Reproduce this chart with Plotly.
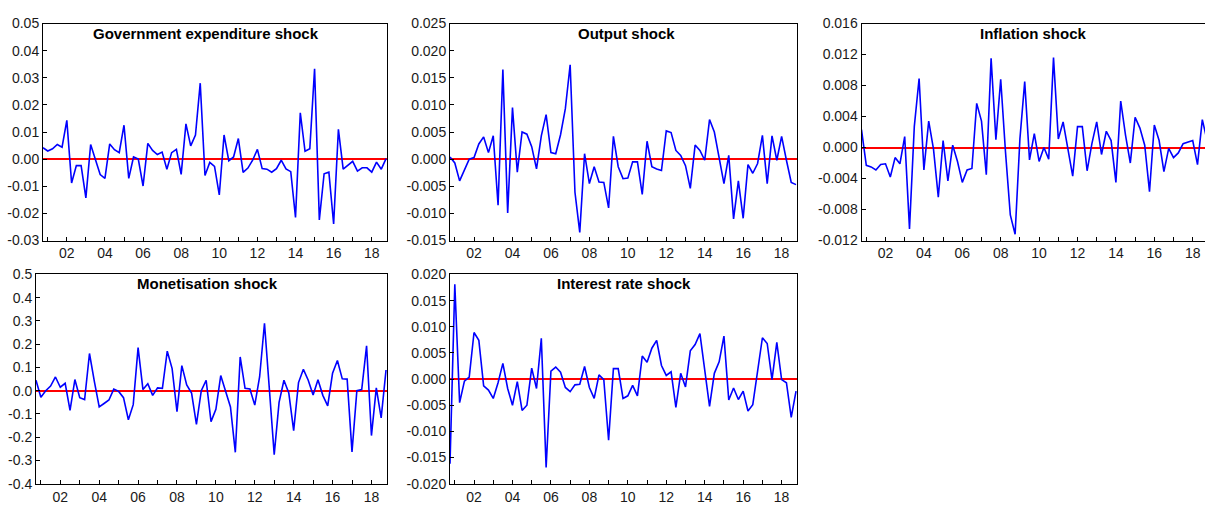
import plotly.graph_objects as go
import pandas as pd

# ---------------- data (quarterly, 2000Q4 - 2018Q4) ----------------
quarters = pd.period_range("2000Q4", "2018Q4", freq="Q")

gov_shock = [0.0042, 0.0030, 0.0038, 0.0054, 0.0044, 0.0143, -0.0088, -0.0024, -0.0024, -0.0143,
             0.0054, 0.0000, -0.0057, -0.0071, 0.0056, 0.0035, 0.0024, 0.0125, -0.0071, 0.0008,
             0.0000, -0.0099, 0.0058, 0.0032, 0.0017, 0.0026, -0.0037, 0.0024, 0.0036, -0.0056,
             0.0130, 0.0049, 0.0089, 0.0280, -0.0060, -0.0012, -0.0027, -0.0132, 0.0089, -0.0006,
             0.0008, 0.0076, -0.0049, -0.0033, -0.0004, 0.0036, -0.0035, -0.0037, -0.0048, -0.0035,
             -0.0004, -0.0036, -0.0046, -0.0215, 0.0171, 0.0029, 0.0038, 0.0333, -0.0224, -0.0054,
             -0.0048, -0.0239, 0.0110, -0.0037, -0.0023, -0.0008, -0.0044, -0.0032, -0.0032, -0.0048,
             -0.0011, -0.0037, 0.0002]

output_shock = [0.0004, -0.0007, -0.0040, -0.0020, 0.0000, 0.0003, 0.0028, 0.0041, 0.0012, 0.0043,
                -0.0085, 0.0165, -0.0099, 0.0095, -0.0024, 0.0050, 0.0046, 0.0023, -0.0018, 0.0043,
                0.0082, 0.0012, 0.0010, 0.0045, 0.0093, 0.0174, -0.0061, -0.0135, 0.0010, -0.0045,
                -0.0014, -0.0042, -0.0043, -0.0090, 0.0042, -0.0014, -0.0036, -0.0035, -0.0005, -0.0005,
                -0.0065, 0.0033, -0.0014, -0.0018, -0.0021, 0.0052, 0.0049, 0.0016, 0.0007, -0.0012,
                -0.0054, 0.0026, 0.0016, -0.0002, 0.0073, 0.0050, 0.0005, -0.0045, 0.0007, -0.0110,
                -0.0040, -0.0109, -0.0010, -0.0026, -0.0008, 0.0044, -0.0045, 0.0043, -0.0002, 0.0042,
                -0.0002, -0.0043, -0.0047]

inflation_shock = [0.0023, -0.0023, -0.0025, -0.0029, -0.0022, -0.0021, -0.0038, -0.0013, -0.0021, 0.0014,
                   -0.0105, 0.0027, 0.0089, -0.0029, 0.0034, -0.0002, -0.0064, 0.0009, -0.0043, 0.0003,
                   -0.0018, -0.0045, -0.0029, -0.0027, 0.0057, 0.0034, -0.0035, 0.0115, 0.0010, 0.0088,
                   -0.0006, -0.0087, -0.0112, 0.0011, 0.0085, -0.0016, 0.0018, -0.0018, 0.0000, -0.0015,
                   0.0116, 0.0011, 0.0033, 0.0000, -0.0037, 0.0027, 0.0027, -0.0030, 0.0005, 0.0033,
                   -0.0009, 0.0021, 0.0009, -0.0045, 0.0060, 0.0016, -0.0020, 0.0039, 0.0025, 0.0003,
                   -0.0057, 0.0029, 0.0009, -0.0031, -0.0001, -0.0013, -0.0007, 0.0005, 0.0007, 0.0009,
                   -0.0022, 0.0036, 0.0009]

monetisation_shock = [0.045, -0.028, 0.000, 0.020, 0.059, 0.015, 0.032, -0.085, 0.048, -0.030,
                      -0.038, 0.160, 0.040, -0.070, -0.055, -0.040, 0.007, -0.003, -0.030, -0.125,
                      -0.060, 0.185, 0.005, 0.030, -0.020, 0.012, 0.010, 0.170, 0.095, -0.090,
                      0.108, 0.025, -0.010, -0.145, 0.000, 0.045, -0.133, -0.080, 0.065, 0.000,
                      -0.070, -0.265, 0.145, 0.010, 0.007, -0.062, 0.060, 0.290, 0.020, -0.275,
                      -0.050, 0.045, -0.010, -0.172, 0.035, 0.092, 0.045, -0.018, 0.047, -0.020,
                      -0.065, 0.075, 0.130, 0.051, 0.050, -0.263, 0.000, 0.005, 0.193, -0.193,
                      0.012, -0.117, 0.089]

interest_shock = [-0.0162, 0.0181, -0.0045, -0.0004, 0.0004, 0.0089, 0.0074, -0.0013, -0.0021, -0.0037,
                  -0.0007, 0.0030, -0.0018, -0.0050, -0.0005, -0.0060, -0.0050, 0.0021, -0.0018, 0.0078,
                  -0.0169, 0.0015, 0.0023, 0.0013, -0.0016, -0.0024, -0.0011, -0.0010, 0.0024, -0.0016,
                  -0.0037, 0.0008, -0.0001, -0.0117, 0.0020, 0.0020, -0.0037, -0.0032, -0.0012, -0.0032,
                  0.0044, 0.0032, 0.0059, 0.0074, 0.0026, 0.0007, 0.0014, -0.0054, 0.0011, -0.0015,
                  0.0054, 0.0066, 0.0087, 0.0018, -0.0052, 0.0011, 0.0033, 0.0082, -0.0040, -0.0017,
                  -0.0039, -0.0023, -0.0061, -0.0049, 0.0015, 0.0079, 0.0068, -0.0001, 0.0070, -0.0001,
                  -0.0007, -0.0073, -0.0023]

titles = ["Government expenditure shock", "Output shock", "Inflation shock",
          "Monetisation shock", "Interest rate shock"]

year_ticks = list(range(2001, 2019))
year_labels = ["", "02", "", "04", "", "06", "", "08", "", "10", "", "12", "", "14", "", "16", "", "18"]

gov_yticks = ["-0.03", "-0.02", "-0.01", "0.00", "0.01", "0.02", "0.03", "0.04", "0.05"]
output_yticks = ["-0.015", "-0.010", "-0.005", "0.000", "0.005", "0.010", "0.015", "0.020", "0.025"]
inflation_yticks = ["-0.012", "-0.008", "-0.004", "0.000", "0.004", "0.008", "0.012", "0.016"]
monetisation_yticks = ["-0.4", "-0.3", "-0.2", "-0.1", "0.0", "0.1", "0.2", "0.3", "0.4", "0.5"]
interest_yticks = ["-0.020", "-0.015", "-0.010", "-0.005", "0.000", "0.005", "0.010", "0.015", "0.020"]

# ---------------- layout helpers ----------------
W, H = 1205, 514
x_vals = [p.year + (p.quarter - 1) / 4 for p in quarters]

def px_dom(a, b, total):
    return [a / total, b / total]

def py_dom(top, bottom):
    return [1 - bottom / H, 1 - top / H]

panels = [
    dict(vals=gov_shock, yt=gov_yticks, xd=px_dom(43, 387, W), yd=py_dom(16, 240),
         xr=[2000.75, 2018.8], mirror_y=True, tx=0.475),
    dict(vals=output_shock, yt=output_yticks, xd=px_dom(450, 797, W), yd=py_dom(16, 240),
         xr=[2000.75, 2018.8], mirror_y=True, tx=0.51),
    dict(vals=inflation_shock, yt=inflation_yticks, xd=px_dom(861.5, 1205, W), yd=py_dom(16, 240),
         xr=[2000.75, 2018.64], mirror_y=False, tx=0.5),
    dict(vals=monetisation_shock, yt=monetisation_yticks, xd=px_dom(36, 387, W), yd=py_dom(275, 491),
         xr=[2000.75, 2018.8], mirror_y=True, tx=0.49),
    dict(vals=interest_shock, yt=interest_yticks, xd=px_dom(450, 797, W), yd=py_dom(275, 491),
         xr=[2000.75, 2018.8], mirror_y=True, tx=0.5),
]

FONT = "Liberation Sans, Arial, sans-serif"
fig = go.Figure()
annotations = []
for i, (p, title) in enumerate(zip(panels, titles)):
    suf = "" if i == 0 else str(i + 1)
    fig.add_trace(go.Scatter(x=x_vals, y=p["vals"], mode="lines",
                             line=dict(color="#0000ff", width=1.6),
                             xaxis="x" + suf, yaxis="y" + suf, showlegend=False,
                             hoverinfo="skip"))
    ytv = [float(t) for t in p["yt"]]
    fig.layout["xaxis" + suf] = dict(
        domain=p["xd"], range=p["xr"], anchor="y" + suf,
        tickmode="array", tickvals=year_ticks, ticktext=year_labels,
        ticks="inside", ticklen=4, tickcolor="black", tickwidth=1,
        showline=True, linecolor="black", linewidth=1, mirror=True,
        showgrid=False, zeroline=False, fixedrange=True,
        tickfont=dict(family=FONT, size=14, color="#1a1a1a"))
    fig.layout["yaxis" + suf] = dict(
        domain=p["yd"], range=[ytv[0], ytv[-1]], anchor="x" + suf,
        tickmode="array", tickvals=ytv, ticktext=p["yt"],
        ticks="inside", ticklen=4, tickcolor="black", tickwidth=1,
        showline=True, linecolor="black", linewidth=1, mirror=p["mirror_y"],
        showgrid=False, zeroline=True, zerolinecolor="#ff0000", zerolinewidth=2,
        fixedrange=True,
        tickfont=dict(family=FONT, size=14, color="#1a1a1a"))
    annotations.append(dict(
        text="<b>" + title + "</b>", xref="x" + suf + " domain", yref="y" + suf + " domain",
        x=p["tx"], y=1, xanchor="center", yanchor="top", yshift=1, showarrow=False,
        font=dict(family=FONT, size=15, color="black")))

fig.update_layout(width=W, height=H, margin=dict(l=0, r=0, t=0, b=0, pad=0),
                  paper_bgcolor="white", plot_bgcolor="white",
                  annotations=annotations, showlegend=False, hovermode=False)

css_fix = (
    "var de=document.documentElement, b=document.body;"
    "de.style.margin='0';de.style.padding='0';de.style.overflow='hidden';"
    "de.style.height='514px';"
    "b.style.margin='0';b.style.padding='0';b.style.overflow='hidden';"
    "b.style.height='514px';"
)

fig.write_html("out.html", config={"displayModeBar": False, "staticPlot": False},
               post_script=css_fix)
